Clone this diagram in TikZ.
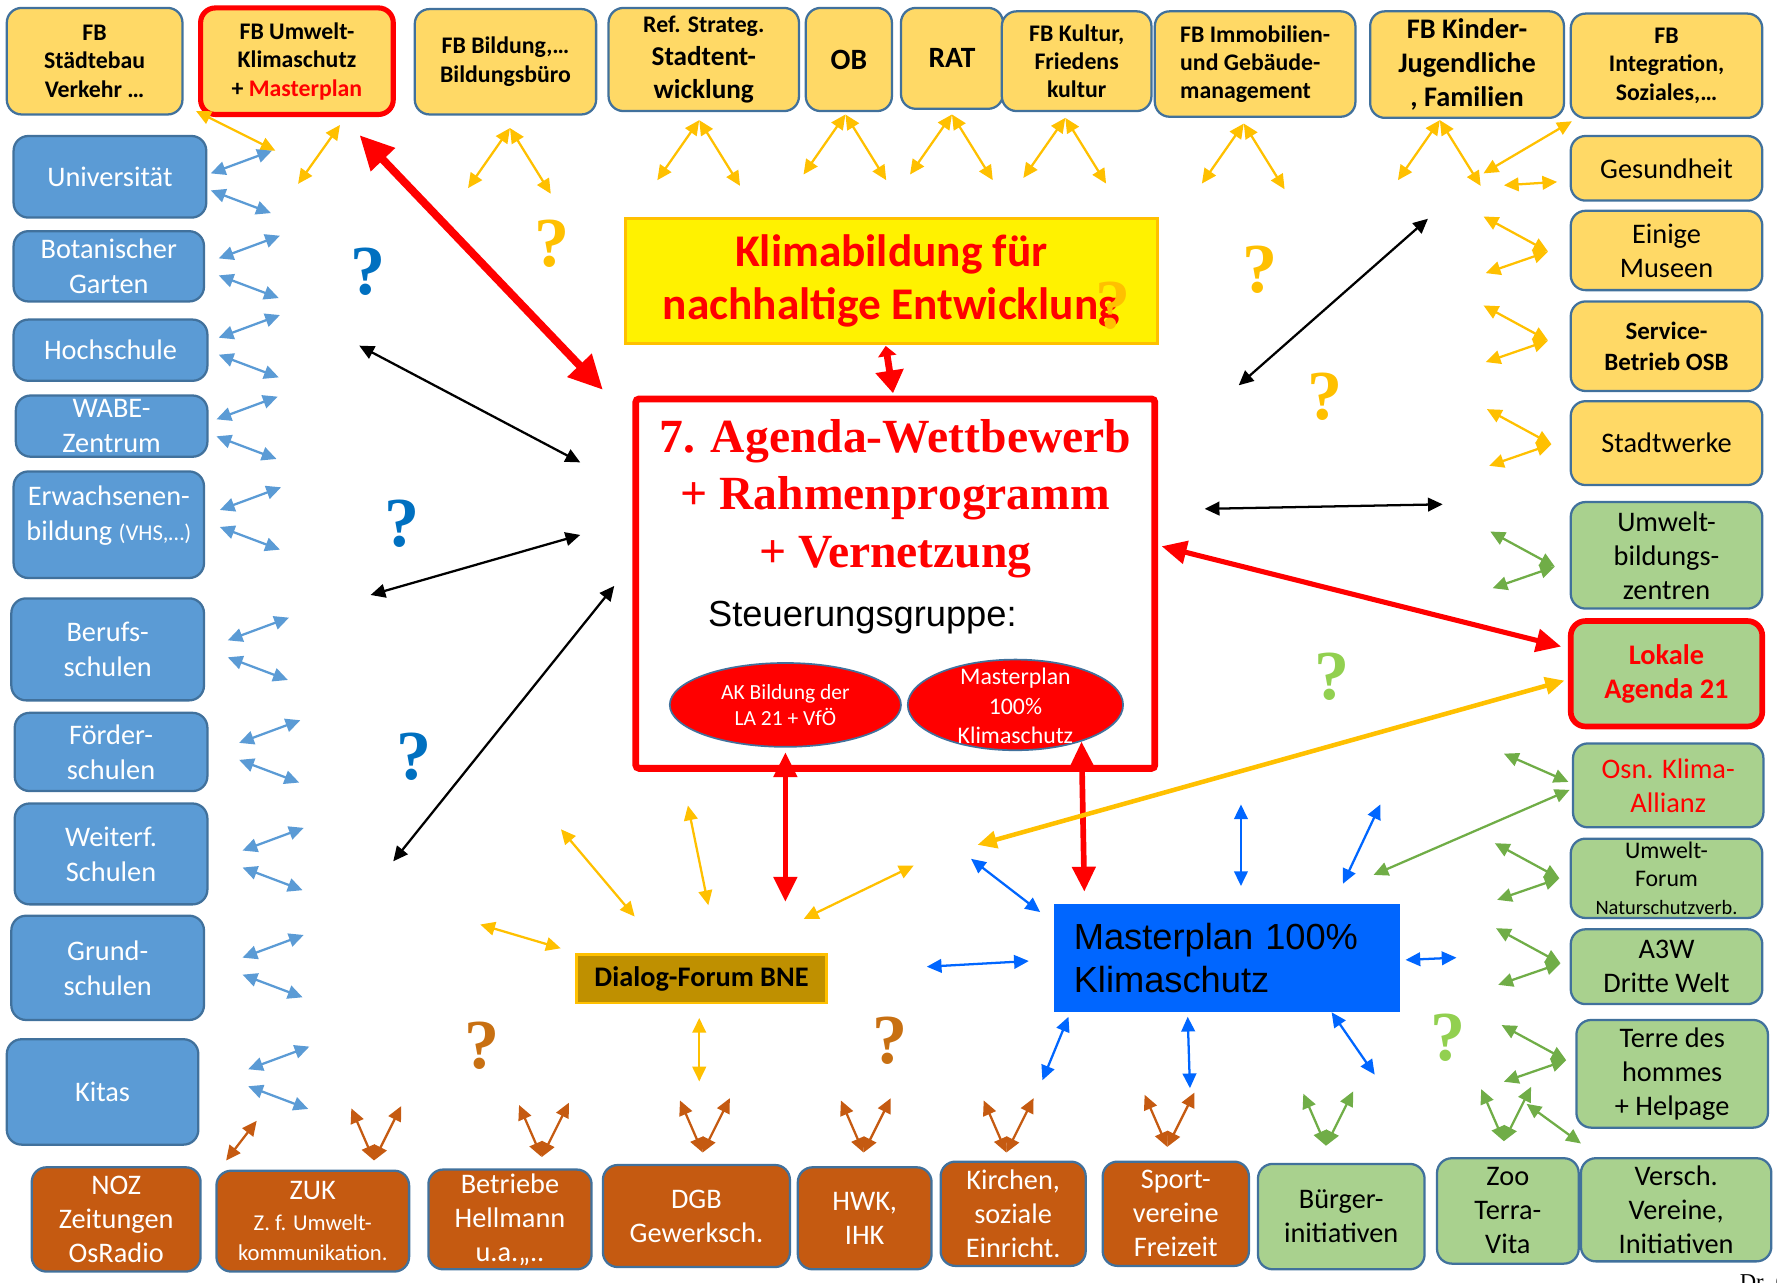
\documentclass[tikz,border=0pt]{standalone}
\usepackage{fontspec}
\setmainfont{Carlito}
\newfontfamily\timesf{Liberation Serif}
\newfontfamily\arialf{Liberation Sans}
\usetikzlibrary{arrows.meta,shapes.geometric}

\definecolor{amtgelb}{HTML}{FFD966}
\definecolor{rahmen}{HTML}{41719C}
\definecolor{schulblau}{HTML}{5B9BD5}
\definecolor{braun}{HTML}{C55A11}
\definecolor{gruen}{HTML}{A9D18E}
\definecolor{pfeilgelb}{HTML}{FFC000}
\definecolor{pfeilgruen}{HTML}{70AD47}
\definecolor{mpblau}{HTML}{0066FF}
\definecolor{frageblau}{HTML}{0070C0}
\definecolor{fragegruen}{HTML}{92D050}
\definecolor{fragebraun}{HTML}{C87012}
\definecolor{dialoggold}{HTML}{BF9000}

\newcommand\fsz[2]{\fontsize{#1}{#2}\selectfont}

\tikzset{
	wh/.style 2 args={minimum width=#1pt, minimum height=#2pt},
	kasten/.style={draw=rahmen, line width=2pt, rounded corners=13pt, align=center, inner sep=1pt},
	amt/.style={kasten, fill=amtgelb, font=\bfseries\fsz{21}{25}},
	partner/.style={kasten, fill=amtgelb, font=\fsz{25}{30}},
	schule/.style={kasten, fill=schulblau, text=white, font=\fsz{25}{31}},
	verband/.style={kasten, fill=braun, text=white, font=\fsz{25}{30}},
	initiative/.style={kasten, fill=gruen, font=\fsz{25}{30}},
	frage/.style={font=\timesf\bfseries\fsz{62}{62}, inner sep=0pt},
	pf/.style={<->, >={Triangle[length=13pt,width=12pt]}, line width=2pt},
	gelbpf/.style={pf, draw=pfeilgelb},
	blaupf/.style={pf, draw=schulblau},
	braunpf/.style={pf, draw=braun},
	gruenpf/.style={pf, draw=pfeilgruen},
	mppf/.style={pf, draw=mpblau},
	schwarzpf/.style={pf, draw=black},
	rotpf/.style={<->, >={Triangle[length=22pt,width=20pt]}, line width=5pt, draw=red},
	rotkurz/.style={{Triangle[length=9pt,width=16pt]}-{Triangle[length=20pt,width=24pt]}, line width=6pt, draw=red},
	rotdick/.style={<->, >={Triangle[length=30pt,width=28pt]}, line width=7pt, draw=red},
	gelbdick/.style={<->, >={Triangle[length=17pt,width=15pt]}, line width=4pt, draw=pfeilgelb}
}

\begin{document}
\begin{tikzpicture}[x=1pt,y=-1pt]
	%%%%% START %%%%%
	\useasboundingbox (0,0) rectangle (1568,1132);
	\clip (0,0) rectangle (1568,1132);
	
	\node[amt, wh={155}{94}] (staedte) at (83.5,54) {FB\\Städtebau\\Verkehr …};
	\node[amt, wh={170}{94}, draw=red, line width=4.5pt] (umwelt) at (262,54) {FB Umwelt-\\Klimaschutz\\+ \textcolor{red}{Masterplan}};
	\node[amt, wh={160}{93}] (bildung) at (446,54.5) {FB Bildung,…\\Bildungsbüro};
	\node[amt, wh={168}{91}, font=\bfseries\fsz{24}{29}] (strateg) at (621,52.5) {{\fsz{21}{29}Ref. Strateg.}\\Stadtent-\\wicklung};
	\node[amt, wh={76}{91}, font=\bfseries\fsz{26}{30}] (ob) at (749,52.5) {OB};
	\node[amt, wh={90}{89}, font=\bfseries\fsz{26}{30}] (rat) at (840,51.5) {RAT};
	\node[amt, wh={132}{88}] (kultur) at (950,54) {FB Kultur,\\Friedens\\kultur};
	\node[amt, wh={177}{93}, align=left] (immo) at (1107.5,56.5) {FB Immobilien-\\und Gebäude-\\management};
	\node[amt, wh={171}{94}, font=\bfseries\fsz{25}{30}] (kinder) at (1294.5,57) {FB Kinder-\\Jugendliche\\, Familien};
	\node[amt, wh={169}{92}] (integr) at (1470.5,58) {FB\\Integration,\\Soziales,…};
	
	\node[partner, wh={169}{57}] (gesund) at (1470.5,148.5) {Gesundheit};
	\node[partner, wh={169}{70}] (museen) at (1470.5,221) {Einige\\Museen};
	\node[partner, wh={169}{79}, font=\bfseries\fsz{22}{28}] (osb) at (1470.5,305.5) {Service-\\Betrieb OSB};
	\node[partner, wh={169}{74}] (stadtw) at (1470.5,391) {Stadtwerke};
	\node[initiative, wh={169}{94}] (ubz) at (1470.5,490) {Umwelt-\\bildungs-\\zentren};
	\node[initiative, wh={169}{93}, draw=red, line width=5pt, text=red, font=\bfseries\fsz{25}{30}] (la21) at (1470.5,594.5) {Lokale\\Agenda 21};
	\node[initiative, wh={168}{74}, text=red] (klima) at (1472,693) {Osn. Klima-\\Allianz};
	\node[initiative, wh={169}{70}, font=\fsz{21}{24.5}] (uforum) at (1470.5,775) {Umwelt-\\Forum\\{\fsz{18}{24.5}Naturschutzverb.}};
	\node[initiative, wh={169}{66}] (a3w) at (1470.5,853) {A3W\\Dritte Welt};
	\node[initiative, wh={169}{95}] (terre) at (1475.5,947.5) {Terre des\\hommes\\+ Helpage};
	
	\node[verband, wh={149}{92}] (noz) at (102.5,1076) {NOZ\\Zeitungen\\OsRadio};
	\node[verband, wh={170}{89}, font=\fsz{25}{27}] (zuk) at (276,1077.5) {ZUK\\{\fsz{20}{26}Z. f. Umwelt-}\\{\fsz{20}{26}kommunikation.}};
	\node[verband, wh={144}{88}] (betr) at (450,1076) {Betriebe\\Hellmann\\u.a.,,..};
	\node[verband, wh={165}{90}] (dgb) at (614.5,1073) {DGB\\Gewerksch.};
	\node[verband, wh={118}{90}] (hwk) at (763,1075) {HWK,\\IHK};
	\node[verband, wh={128}{92}] (kirchen) at (894,1071) {Kirchen,\\soziale\\Einricht.};
	\node[verband, wh={129}{92}] (sport) at (1037.5,1071) {Sport-\\vereine\\Freizeit};
	\node[initiative, wh={147}{93}] (buerger) at (1183.5,1073.5) {Bürger-\\initiativen};
	\node[initiative, wh={125}{93}] (zoo) at (1330.5,1068.5) {Zoo\\Terra-\\Vita};
	\node[initiative, wh={168}{91}] (versch) at (1479,1067.5) {Versch.\\Vereine,\\Initiativen};
	
	\node[schule, wh={170}{72}] (uni) at (97,156) {Universität};
	\node[schule, wh={168}{62}] (bot) at (96,235) {Botanischer\\Garten};
	\node[schule, wh={171}{54}] (hoch) at (97.5,309) {Hochschule};
	\node[schule, wh={169}{54}] (wabe) at (98.5,376) {WABE-\\Zentrum};
	\node[schule, wh={168}{94}] (erw) at (96,463) {};
	\node[text=white, font=\fsz{25}{31}, align=center] (erwtext) at (96,455) {Erwachsenen-\\bildung {\fsz{20}{31}(VHS,…)}};
	\node[schule, wh={170}{90}] (beruf) at (95,573) {Berufs-\\schulen};
	\node[schule, wh={170}{69}] (foerder) at (98,663.5) {Förder-\\schulen};
	\node[schule, wh={170}{89}] (weiter) at (98,753.5) {Weiterf.\\Schulen};
	\node[schule, wh={170}{92}] (grund) at (95,854) {Grund-\\schulen};
	\node[schule, wh={169}{93}] (kitas) at (90.5,963.5) {Kitas};
	
	\node[wh={469}{110}, fill=yellow, draw=pfeilgelb, line width=2.5pt, font=\bfseries\fsz{40}{47}, text=red, align=center] (klimab) at (786.5,248) {Klimabildung für\\nachhaltige Entwicklung};
	\node[wh={458}{326}, draw=red, line width=6pt, rounded corners=3pt] (agenda) at (790,515) {};
	\node[font=\timesf\bfseries\fsz{42}{51}, text=red, align=center] (titel) at (790,440) {7. Agenda-Wettbewerb\\+ Rahmenprogramm\\+ Vernetzung};
	\node[font=\arialf\fsz{32}{38}] (steuer) at (761,545) {Steuerungsgruppe:};
	\node[ellipse, wh={204}{74}, draw=rahmen, line width=1.5pt, fill=red, inner sep=0pt, text=white, font=\fsz{19}{23}, align=center] (ak) at (693,622) {AK Bildung der\\LA 21 + VfÖ};
	\node[ellipse, wh={190}{80}, draw=rahmen, line width=1.5pt, fill=red] (mpell) at (896,622) {};
	\node[text=white, font=\fsz{21}{26}, align=center] (mpelltext) at (896,623) {Masterplan\\100\%\\Klimaschutz};
	
	\node[wh={220}{43}, fill=dialoggold, draw=pfeilgelb, line width=2.5pt, font=\bfseries\fsz{25}{30}] (dialog) at (619,863.5) {Dialog-Forum BNE};
	\node[wh={305}{95}, fill=mpblau, text width=270pt, align=left, font=\arialf\fsz{32}{38}] (mp) at (1082.5,845.5) {Masterplan 100\%\\Klimaschutz};
	
	\draw[gelbpf] ([shift={(11,-4)}]staedte.south east) -- ++(70,35);
	\draw[gelbpf] ([shift={(38,7)}]umwelt.south) -- ++(-37,52);
	\draw[gelbpf] ([shift={(4,11)}]bildung.south) -- ++(-37,53);
	\draw[gelbpf] ([shift={(4,11)}]bildung.south) -- ++(36,58);
	\draw[gelbpf] ([shift={(-4,7)}]strateg.south) -- ++(-37,53);
	\draw[gelbpf] ([shift={(-4,7)}]strateg.south) -- ++(36,58);
	\draw[gelbpf] ([shift={(-3,2)}]ob.south) -- ++(-37,53);
	\draw[gelbpf] ([shift={(-3,2)}]ob.south) -- ++(36,58);
	\draw[gelbpf] ([shift={(0,4)}]rat.south) -- ++(-37,53);
	\draw[gelbpf] ([shift={(0,4)}]rat.south) -- ++(36,58);
	\draw[gelbpf] ([shift={(-10,5)}]kultur.south) -- ++(-37,53);
	\draw[gelbpf] ([shift={(-10,5)}]kultur.south) -- ++(36,58);
	\draw[gelbpf] ([shift={(-10,5)}]immo.south) -- ++(-37,53);
	\draw[gelbpf] ([shift={(-10,5)}]immo.south) -- ++(36,58);
	\draw[gelbpf] ([shift={(-24,1)}]kinder.south) -- ++(-37,53);
	\draw[gelbpf] ([shift={(-24,1)}]kinder.south) -- ++(36,58);
	\draw[gelbpf] ([shift={(2,2)}]integr.south west) -- ++(-78,46);
	\draw[gelbpf] ([shift={(-11,12)}]gesund.west) -- ++(-47,3);
	
	\draw[gelbpf] ([shift={(-19,1)}]museen.west) -- ++(-57,-31);
	\draw[gelbpf] ([shift={(-19,1)}]museen.west) -- ++(-55,19);
	\draw[gelbpf] ([shift={(-19,-5)}]osb.west) -- ++(-57,-31);
	\draw[gelbpf] ([shift={(-19,-5)}]osb.west) -- ++(-55,19);
	\draw[gelbpf] ([shift={(-16,1)}]stadtw.west) -- ++(-57,-31);
	\draw[gelbpf] ([shift={(-16,1)}]stadtw.west) -- ++(-55,19);
	\draw[gruenpf] ([shift={(-13,10)}]ubz.west) -- ++(-57,-31);
	\draw[gruenpf] ([shift={(-13,10)}]ubz.west) -- ++(-55,19);
	\draw[gruenpf] ([shift={(-3,-3)}]klima.west) -- ++(-57,-25);
	\draw[gruenpf] ([shift={(-2,4)}]klima.west) -- ++(-173,75);
	\draw[gruenpf] ([shift={(-9,0)}]uforum.west) -- ++(-57,-31);
	\draw[gruenpf] ([shift={(-9,0)}]uforum.west) -- ++(-55,19);
	\draw[gruenpf] ([shift={(-8,-3)}]a3w.west) -- ++(-57,-31);
	\draw[gruenpf] ([shift={(-8,-3)}]a3w.west) -- ++(-55,19);
	\draw[gruenpf] ([shift={(-8,-12)}]terre.west) -- ++(-57,-31);
	\draw[gruenpf] ([shift={(-8,-12)}]terre.west) -- ++(-55,19);
	
	\draw[blaupf] ([shift={(3,-3)}]uni.east) -- ++(54,-20);
	\draw[blaupf] ([shift={(3,12)}]uni.east) -- ++(53,20);
	\draw[blaupf] ([shift={(12,-7)}]bot.east) -- ++(54,-20);
	\draw[blaupf] ([shift={(12,8)}]bot.east) -- ++(53,20);
	\draw[blaupf] ([shift={(9,-11)}]hoch.east) -- ++(54,-20);
	\draw[blaupf] ([shift={(9,4)}]hoch.east) -- ++(53,20);
	\draw[blaupf] ([shift={(7,-6)}]wabe.east) -- ++(54,-20);
	\draw[blaupf] ([shift={(7,9)}]wabe.east) -- ++(53,20);
	\draw[blaupf] ([shift={(13,-13)}]erw.east) -- ++(54,-20);
	\draw[blaupf] ([shift={(13,2)}]erw.east) -- ++(53,20);
	\draw[blaupf] ([shift={(20,-8)}]beruf.east) -- ++(54,-20);
	\draw[blaupf] ([shift={(20,7)}]beruf.east) -- ++(53,20);
	\draw[blaupf] ([shift={(27,-8)}]foerder.east) -- ++(54,-20);
	\draw[blaupf] ([shift={(27,7)}]foerder.east) -- ++(53,20);
	\draw[blaupf] ([shift={(30,-3)}]weiter.east) -- ++(54,-20);
	\draw[blaupf] ([shift={(30,12)}]weiter.east) -- ++(53,20);
	\draw[blaupf] ([shift={(33,-9)}]grund.east) -- ++(54,-20);
	\draw[blaupf] ([shift={(33,6)}]grund.east) -- ++(53,20);
	\draw[blaupf] ([shift={(43,-20)}]kitas.east) -- ++(54,-20);
	\draw[blaupf] ([shift={(43,-5)}]kitas.east) -- ++(53,20);
	
	\draw[braunpf] ([shift={(97,-5)}]noz.north) -- ++(27,-35);
	\draw[braunpf] ([shift={(54,-8)}]zuk.north) -- ++(-20,-46);
	\draw[braunpf] ([shift={(54,-8)}]zuk.north) -- ++(24,-48);
	\draw[braunpf] ([shift={(28,-10)}]betr.north) -- ++(-20,-46);
	\draw[braunpf] ([shift={(28,-10)}]betr.north) -- ++(24,-48);
	\draw[braunpf] ([shift={(5.5,-10)}]dgb.north) -- ++(-20,-46);
	\draw[braunpf] ([shift={(5.5,-10)}]dgb.north) -- ++(24,-48);
	\draw[braunpf] ([shift={(-1,-12)}]hwk.north) -- ++(-20,-46);
	\draw[braunpf] ([shift={(-1,-12)}]hwk.north) -- ++(24,-48);
	\draw[braunpf] ([shift={(-6,-7)}]kirchen.north) -- ++(-20,-46);
	\draw[braunpf] ([shift={(-6,-7)}]kirchen.north) -- ++(24,-48);
	\draw[braunpf] ([shift={(-7.5,-12)}]sport.north) -- ++(-20,-46);
	\draw[braunpf] ([shift={(-7.5,-12)}]sport.north) -- ++(24,-48);
	\draw[gruenpf] ([shift={(-13.5,-15)}]buerger.north) -- ++(-20,-46);
	\draw[gruenpf] ([shift={(-13.5,-15)}]buerger.north) -- ++(24,-48);
	\draw[gruenpf] ([shift={(-3.5,-14)}]zoo.north) -- ++(-20,-46);
	\draw[gruenpf] ([shift={(-3.5,-14)}]zoo.north) -- ++(24,-48);
	\draw[gruenpf] ([shift={(-84,-12)}]versch.north) -- ++(-48,-35);
	
	\draw[schwarzpf] ([shift={(-46,-107)}]agenda.west) -- ++(-195,-103);
	\draw[schwarzpf] ([shift={(-46,-43)}]agenda.west) -- ++(-185,53);
	\draw[schwarzpf] ([shift={(-16,2)}]agenda.west) -- ++(-195,243);
	\draw[schwarzpf] ([shift={(41,-66)}]agenda.east) -- ++(210,-4);
	\draw[schwarzpf] ([shift={(71,-9)}]agenda.north east) -- ++(167,-147);
	
	\draw[rotdick] ([shift={(-32,16)}]umwelt.south east) -- ([shift={(-26,-5)}]agenda.north west);
	\draw[rotkurz] ([shift={(-5,1)}]klimab.south) -- ([shift={(-2,-2)}]agenda.north);
	\draw[rotpf, line width=4.5pt] ([shift={(3,-33)}]agenda.east) -- ([shift={(-6,-24)}]la21.west);
	\draw[rotpf] ([shift={(0,4)}]ak.south) -- ([shift={(74,-45)}]dialog.north);
	\draw[rotpf] (mpell.-29) -- ([shift={(27,-11)}]mp.north west);
	\draw[gelbdick] ([shift={(-3,6)}]la21.west) -- ++(-518,145);
	
	\draw[gelbpf] ([shift={(-59,-32)}]dialog.north) -- ++(-65,-77);
	\draw[gelbpf] ([shift={(6,-42)}]dialog.north) -- ++(-18,-88);
	\draw[gelbpf] ([shift={(-21,-30)}]dialog.north east) -- ++(97,-47);
	\draw[gelbpf] ([shift={(-13,-4)}]dialog.north west) -- ++(-71,-21);
	\draw[gelbpf] ([shift={(-2,12)}]dialog.south) -- ++(0,56);
	
	\draw[mppf] ([shift={(-12,7)}]mp.north west) -- ++(-61,-47);
	\draw[mppf] ([shift={(-22,2.5)}]mp.west) -- ++(-90,5);
	\draw[mppf] ([shift={(12.5,-16)}]mp.north) -- ++(0,-72);
	\draw[mppf] ([shift={(102.5,-18)}]mp.north) -- ++(33,-70);
	\draw[mppf] ([shift={(5,1.5)}]mp.east) -- ++(45,-2);
	\draw[mppf] ([shift={(13,4)}]mp.south west) -- ++(-23,56);
	\draw[mppf] ([shift={(-34.5,4)}]mp.south) -- ++(2,63);
	\draw[mppf] ([shift={(92.5,0)}]mp.south) -- ++(38,55);
	
	\node[frage, text=frageblau] (f1) at (325,240) {?};
	\node[frage, text=frageblau] (f2) at (355,462) {?};
	\node[frage, text=frageblau] (f3) at (365,668) {?};
	\node[frage, text=pfeilgelb] (f4) at (487,215) {?};
	\node[frage, text=pfeilgelb] (f5) at (982,270) {?};
	\node[frage, text=pfeilgelb] (f6) at (1112,238) {?};
	\node[frage, text=pfeilgelb] (f7) at (1169,350) {?};
	\node[frage, text=fragegruen] (f8) at (1175,597) {?};
	\node[frage, text=fragegruen] (f9) at (1278,916) {?};
	\node[frage, text=fragebraun] (f10) at (425,923) {?};
	\node[frage, text=fragebraun] (f11) at (785,918) {?};
	
	\node[anchor=north west, inner sep=0pt, font=\timesf\fsz{20}{24}] (sig) at (1535,1124) {Dr. G};
	
	%%%%% END %%%%%
\end{tikzpicture}
\end{document}
